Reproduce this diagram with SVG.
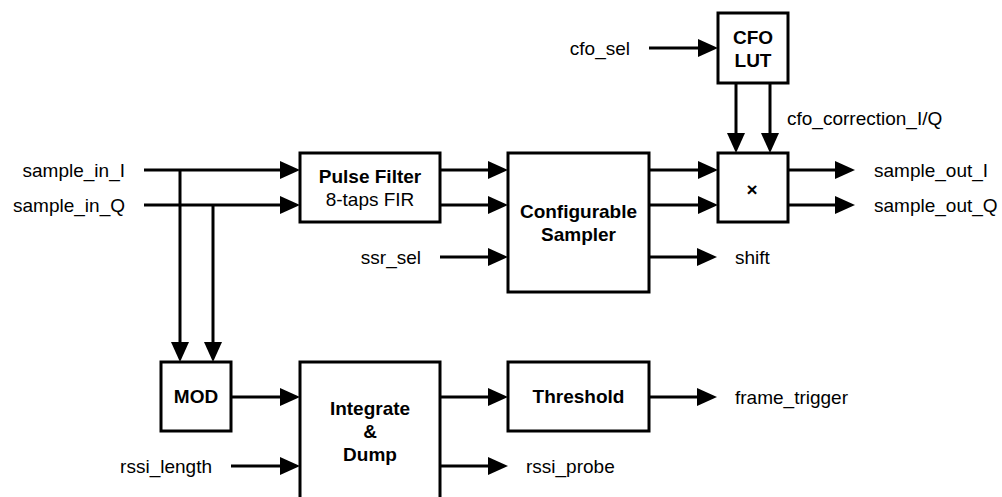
<svg xmlns="http://www.w3.org/2000/svg" width="1002" height="497" viewBox="0 0 1002 497">
<style>
.box{fill:#fff;stroke:#000;stroke-width:3}
.ln{fill:none;stroke:#000;stroke-width:3;marker-end:url(#ah)}
.t{font-family:"Liberation Sans",Arial,Helvetica,sans-serif;font-size:19px;fill:#000}
.b{font-family:"Liberation Sans",Arial,Helvetica,sans-serif;font-size:19px;font-weight:bold;fill:#000;text-anchor:middle}
.e{text-anchor:end}
</style>
<defs>
<marker id="ah" viewBox="0 0 20 18" refX="10" refY="9" markerWidth="20" markerHeight="18" markerUnits="userSpaceOnUse" orient="auto">
<path d="M0,0 L20,9 L0,18 Z" fill="#000"/>
</marker>
</defs>
<rect width="1002" height="497" fill="#fff"/>
<g id="connectors">
<path class="ln" d="M144,170 H290"/>
<path class="ln" d="M144,205 H290"/>
<path class="ln" d="M180,170 V352"/>
<path class="ln" d="M213,205 V352"/>
<path class="ln" d="M440,170 H498"/>
<path class="ln" d="M440,205 H498"/>
<path class="ln" d="M440,257 H498"/>
<path class="ln" d="M649,170 H708"/>
<path class="ln" d="M649,205 H708"/>
<path class="ln" d="M649,257 H707"/>
<path class="ln" d="M649,48 H708"/>
<path class="ln" d="M736,83 V143"/>
<path class="ln" d="M770,83 V143"/>
<path class="ln" d="M788,170 H845"/>
<path class="ln" d="M788,205 H845"/>
<path class="ln" d="M231,397 H290"/>
<path class="ln" d="M231,466 H290"/>
<path class="ln" d="M440,397 H498"/>
<path class="ln" d="M440,466 H498"/>
<path class="ln" d="M649,397 H707"/>
</g>
<g id="labels">
<text class="t e" x="125" y="177">sample_in_I</text>
<text class="t e" x="125" y="212">sample_in_Q</text>
<text class="t e" x="421" y="264">ssr_sel</text>
<text class="t e" x="630" y="55">cfo_sel</text>
<text class="t" x="787" y="125">cfo_correction_I/Q</text>
<text class="t" x="874" y="177">sample_out_I</text>
<text class="t" x="874" y="212">sample_out_Q</text>
<text class="t" x="735" y="264">shift</text>
<text class="t e" x="212" y="473">rssi_length</text>
<text class="t" x="526" y="473">rssi_probe</text>
<text class="t" x="735" y="404">frame_trigger</text>
</g>
<g id="pulse_filter">
<rect class="box" x="300" y="153" width="140" height="69"/>
<text class="b" x="370" y="183">Pulse Filter</text>
<text class="t" x="370" y="206" text-anchor="middle">8-taps FIR</text>
</g>
<g id="sampler">
<rect class="box" x="508" y="153" width="141" height="139"/>
<text class="b" x="578.5" y="218">Configurable</text>
<text class="b" x="578.5" y="241">Sampler</text>
</g>
<g id="cfo_lut">
<rect class="box" x="718" y="13" width="70" height="70"/>
<text class="b" x="753" y="44">CFO</text>
<text class="b" x="753" y="67">LUT</text>
</g>
<g id="multiplier">
<rect class="box" x="718" y="153" width="70" height="69"/>
<text class="b" x="752" y="196">×</text>
</g>
<g id="mod">
<rect class="box" x="161" y="362" width="70" height="69"/>
<text class="b" x="196" y="403">MOD</text>
</g>
<g id="integrate_dump">
<rect class="box" x="300" y="362" width="140" height="145"/>
<text class="b" x="370" y="415">Integrate</text>
<text class="b" x="370" y="438">&amp;</text>
<text class="b" x="370" y="461">Dump</text>
</g>
<g id="threshold">
<rect class="box" x="508" y="362" width="141" height="69"/>
<text class="b" x="578.5" y="403">Threshold</text>
</g>
</svg>
